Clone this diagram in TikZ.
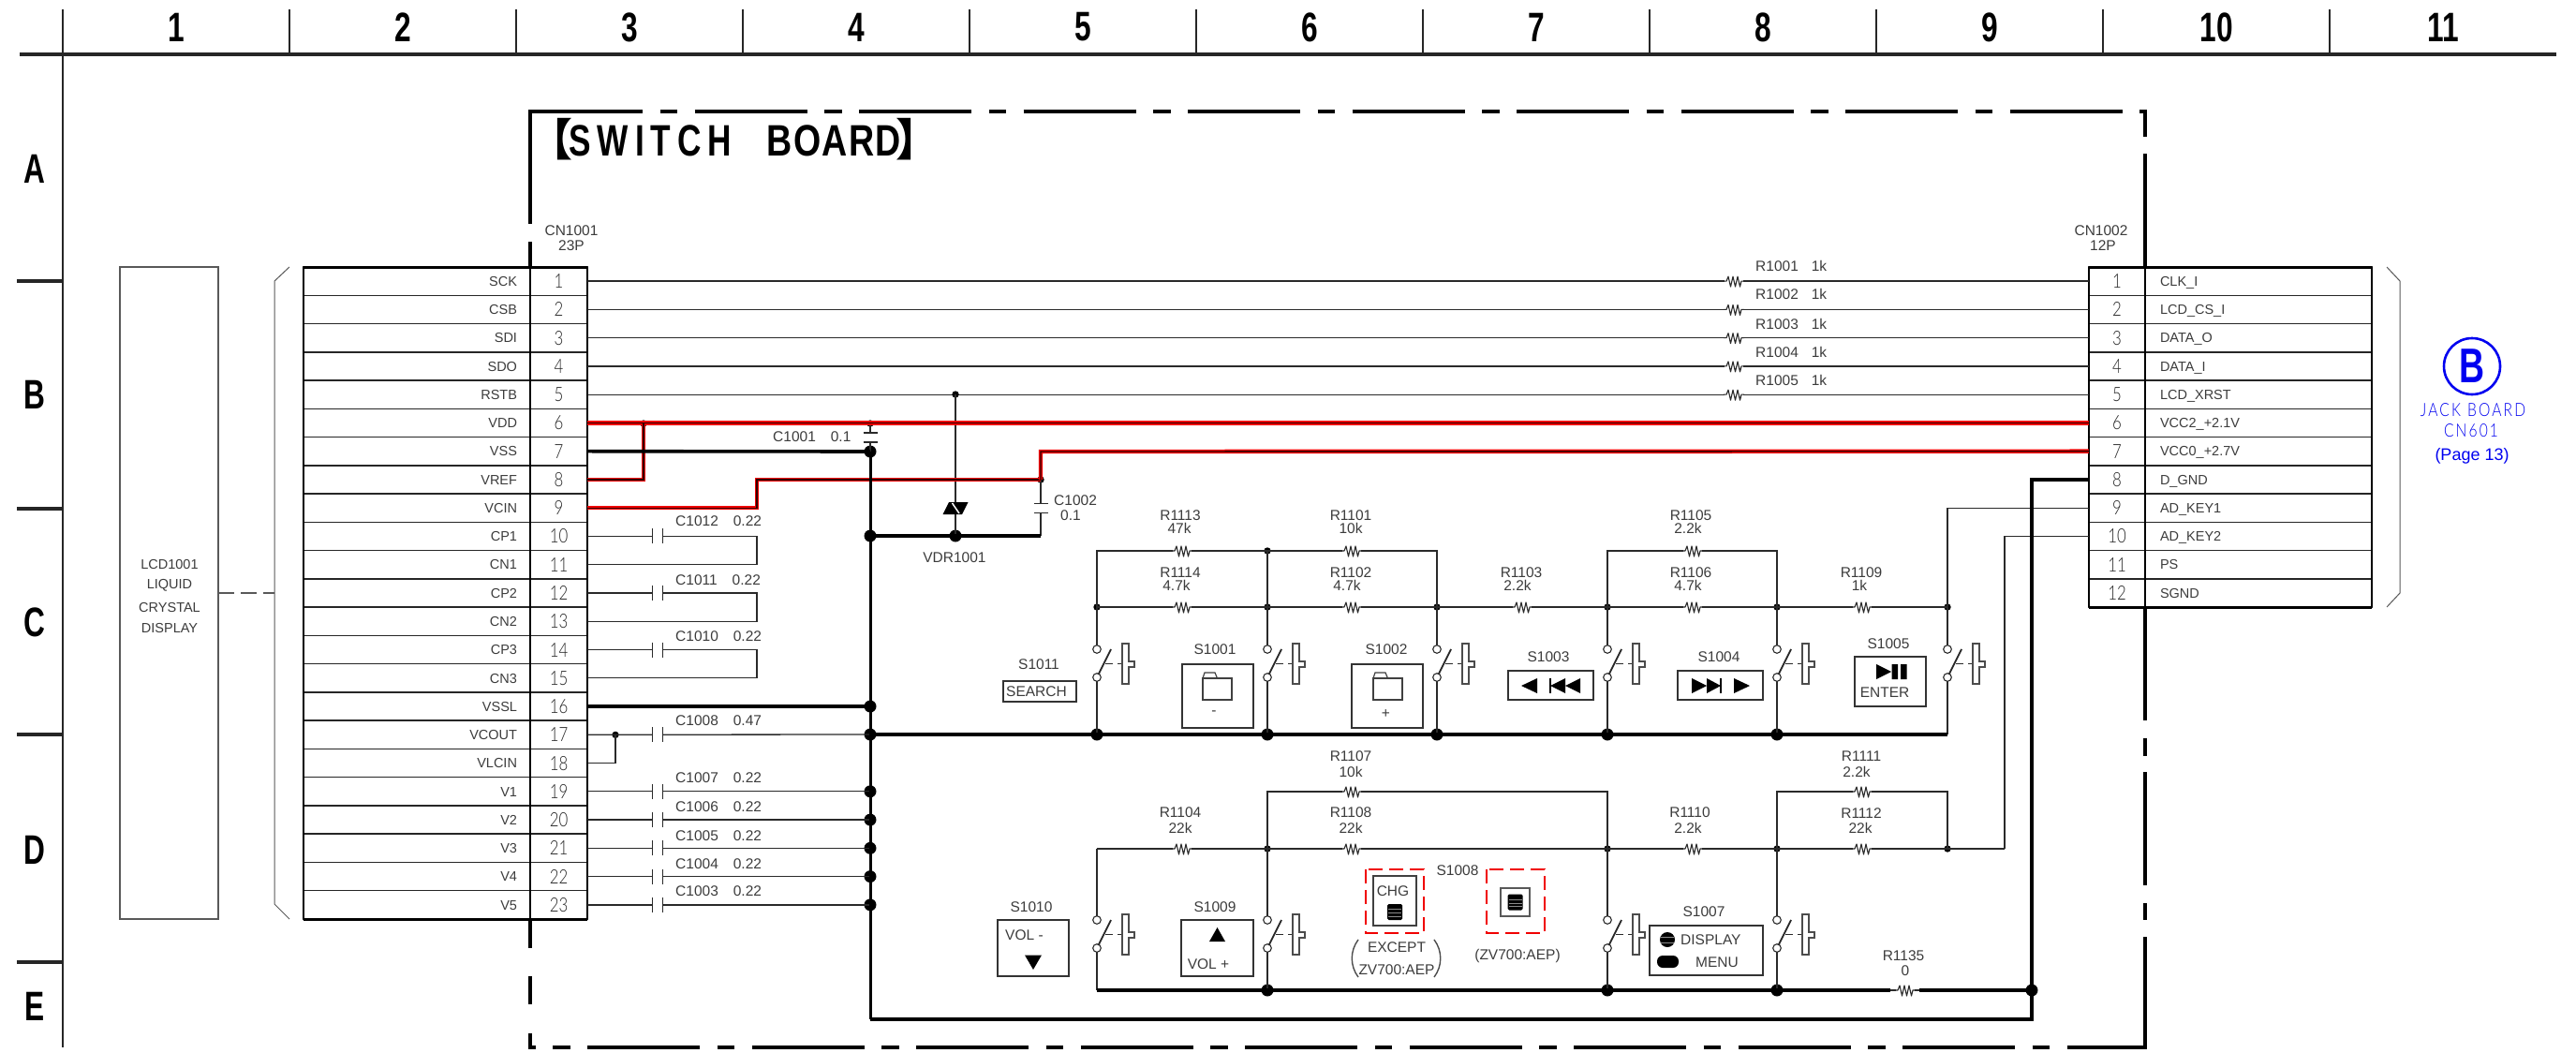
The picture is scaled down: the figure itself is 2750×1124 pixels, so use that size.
\documentclass[tikz,border=0pt]{standalone}
\usepackage{fontspec}
\setmainfont{Liberation Sans}
\newfontfamily\hdf[FakeStretch=0.72]{Liberation Sans}
\newfontfamily\ttlf[FakeStretch=0.75,LetterSpace=15]{Liberation Sans}
\newfontfamily\ttlg[FakeStretch=0.8,LetterSpace=3]{Liberation Sans}
\newfontfamily\pinf[FakeStretch=0.8]{Lato Light}
\newfontfamily\blf[FakeStretch=0.8,LetterSpace=11]{Lato Light}
\newfontfamily\cjk{Noto Sans CJK SC}
\definecolor{txt}{HTML}{3C3C3C}
\definecolor{wirec}{HTML}{2A2A2A}
\definecolor{blu}{HTML}{0000F0}
\definecolor{redc}{HTML}{F00000}
\tikzset{
 x=1pt,y=-1pt,
 gridl/.style={line width=2.2pt,draw=black!85},
 gridh/.style={line width=3.4pt,draw=black!85},
 hdlab/.style={font=\hdf\bfseries\fontsize{44}{44}\selectfont,inner sep=0pt,text=black},
 lab/.style={font=\fontsize{15.5}{15.5}\selectfont,inner sep=0pt,text=txt},
 lcell/.style={draw=black!85,line width=1.5pt,minimum width=242pt,minimum height=30.26pt,inner xsep=0pt,inner ysep=0pt,text width=214pt,align=right,text height=10.5pt,text depth=0pt,font=\fontsize{14.5}{14.5}\selectfont,text=txt,outer sep=0pt},
 rcell/.style={draw=black!85,line width=1.5pt,minimum width=242pt,minimum height=30.26pt,inner xsep=0pt,inner ysep=0pt,text width=210pt,align=left,text height=10.5pt,text depth=0pt,font=\fontsize{14.5}{14.5}\selectfont,text=txt,outer sep=0pt},
 pcell/.style={draw=black!85,line width=1.5pt,minimum width=60.5pt,minimum height=30.26pt,inner sep=0pt,text height=15pt,text depth=0pt,font=\pinf\fontsize{21}{21}\selectfont,text=black!85,outer sep=0pt},
 wire/.style={line width=1.3pt,draw=wirec,line join=miter},
 thickw/.style={line width=3.6pt,draw=black,line join=miter},
 busw/.style={line width=3pt,draw=black,line join=miter},
 redw/.style={draw=redc,double=black!80!red,line width=1.5pt,double distance=1.4pt,line join=miter},
 bord/.style={line width=3.4pt,draw=black},
 sdot/.style={circle,fill=black,minimum size=7.4pt,inner sep=0pt,outer sep=0pt},
 bdot/.style={circle,fill=black,minimum size=13pt,inner sep=0pt,outer sep=0pt},
 swc/.style={circle,draw=wirec,fill=white,line width=1.1pt,minimum size=8.6pt,inner sep=0pt,outer sep=0pt},
 boxk/.style={draw=black!80,line width=1.3pt,fill=white},
 thinb/.style={draw=black!65,line width=1.2pt},
 reddash/.style={draw=redc,line width=2.2pt,dash pattern=on 15pt off 7pt,line cap=butt},
 blab/.style={inner sep=0pt,text=blu},
 resist/.pic={
  \fill[white] (-10,-3) rectangle (10,3);
  \draw[line width=1.1pt,draw=wirec,line join=round] (-11,0)--(-8,0)--(-6,-5)--(-3.5,6)--(-1,-5)--(1.5,6)--(4,-5)--(6.5,6)--(8,0)--(11,0);
 },
 hcap/.pic={
  \fill[white] (-5.5,-3) rectangle (5.5,3);
  \draw[line width=1.8pt,draw=wirec] (-5.5,-8)--(-5.5,8) (5.5,-8)--(5.5,8);
 },
 vcap/.pic={
  \fill[white] (-3,-5) rectangle (3,5);
  \draw[line width=1.8pt,draw=wirec] (-7.5,-5)--(7.5,-5) (-7.5,5)--(7.5,5);
 },
 swm/.pic={
  \draw[line width=1.8pt,draw=black!85] (1.5,12)--(15,-15);
  \draw[line width=1pt,draw=wirec] (9,0)--(17,0) (22,0)--(27,0);
  \draw[line width=1.1pt,draw=black!70,fill=white] (27,-21)--(34,-21)--(34,-2)--(40,-2)--(40,4)--(34,4)--(34,22)--(27,22)--cycle;
 },
 folder/.pic={
  \draw[line width=1.2pt,draw=black!75] (0,0) rectangle (31,23);
  \draw[line width=1.2pt,draw=black!75] (0,0)--(2,-6)--(13,-6)--(15.5,0);
 },
 blockk/.pic={
  \fill[black,rounded corners=1.5pt] (-8,-8.5) rectangle (8,8.5);
  \draw[line width=.6pt,draw=black!45] (-7,-3) -- (7,-3) (-7,1) -- (7,1) (-7,4.5) -- (7,4.5);
 },
}
\begin{document}
\begin{tikzpicture}
\useasboundingbox (0,0) rectangle (2750,1124);
\fill[white] (0,0) rectangle (2750,1124);
% frame
\coordinate (fa) at (21,58); \coordinate (fb) at (2729,58);
\draw[gridh] (fa)--(fb);
\coordinate (fc) at (67,10); \coordinate (fd) at (67,1118);
\draw[gridl] (fc)--(fd);
\foreach \x in {309,551,793,1035,1277,1519,1761,2003,2245,2487}{
  \coordinate (gt\x) at (\x,10); \coordinate (gb\x) at (\x,58);
  \draw[gridl] (gt\x)--(gb\x);}
\foreach \y in {300,543,784,1027}{
  \coordinate (tl\y) at (18,\y); \coordinate (tr\y) at (67,\y);
  \draw[gridh] (tl\y)--(tr\y);}
\foreach \n/\x in {1/188,2/430,3/672,4/914,5/1156,6/1398,7/1640,8/1882,9/2124,10/2366,11/2608}
  \node[hdlab] (col\n) at (\x,29) {\n};
\foreach \n/\y in {A/180,B/421,C/664,D/907,E/1074}
  \node[hdlab] (row\n) at (37,\y) {\n};
% board border
\draw[bord,dash pattern=on 120pt off 18.5pt on 18.5pt off 18.5pt,dash phase=0pt] (566,119)--(2290,119);
\draw[bord] (566,117.3)--(566,239) (566,258)--(566,285) (566,981)--(566,1012) (566,1042)--(566,1072) (566,1103)--(566,1119.7);
\draw[bord] (2290,117.3)--(2290,146) (2290,164)--(2290,285) (2290,648)--(2290,769) (2290,788)--(2290,807) (2290,824)--(2290,945) (2290,964)--(2290,982) (2290,1000)--(2290,1119.7);
\draw[bord,dash pattern=on 120pt off 18.5pt on 18.5pt off 18.5pt,dash phase=114.5pt] (566,1118)--(2290,1118);
\node[font=\bfseries\fontsize{47}{47}\selectfont,inner sep=0pt,text=black,anchor=west] (title) at (576,149) {{\cjk\hspace{-12pt}【\hspace{-4pt}}{\ttlf SWITCH\hspace{37pt}}{\ttlg BOARD}{\cjk\hspace{-5pt}】}};
% LCD
\node[draw=black!65,line width=1.2pt,minimum width=105pt,minimum height=696pt,inner sep=0pt,outer sep=0pt] (lcd) at (180.5,633) {};
\foreach \nm/\y/\t in {lcda/603/LCD1001,lcdb/625/LIQUID,lcdc/649/CRYSTAL,lcdd/671/DISPLAY}
  \node[lab,font=\fontsize{14.5}{14.5}\selectfont] (\nm) at (181,\y) {\t};
\coordinate (brk) at (293,633);
\draw[thinb,dash pattern=on 17pt off 7pt] (lcd.east|-brk)--(brk);
\draw[thinb,line width=1pt] (309,285)--(293,300)--(293,965)--(309,981);
\draw[thinb,line width=1pt] (2548,285)--(2562,300)--(2562,633)--(2548,648);
% connector cells
\foreach \i/\lab in {1/SCK,2/CSB,3/SDI,4/SDO,5/RSTB,6/VDD,7/VSS,8/VREF,9/VCIN,10/CP1,11/CN1,12/CP2,13/CN2,14/CP3,15/CN3,16/VSSL,17/VCOUT,18/VLCIN,19/V1,20/V2,21/V3,22/V4,23/V5}{
  \pgfmathsetmacro\yy{285+30.26*(\i-0.5)}
  \node[lcell] (LL\i) at (445,\yy) {\lab};
  \node[pcell] (LP\i) at (596.5,\yy) {\i};
}
\foreach \i/\lab in {1/CLK\_I,2/LCD\_CS\_I,3/DATA\_O,4/DATA\_I,5/LCD\_XRST,6/VCC2\_+2.1V,7/VCC0\_+2.7V,8/D\_GND,9/AD\_KEY1,10/AD\_KEY2,11/PS,12/SGND}{
  \pgfmathsetmacro\yy{285+30.26*(\i-0.5)}
  \node[rcell] (RL\i) at (2411,\yy) {\lab};
  \node[pcell] (RP\i) at (2260,\yy) {\i};
}
\draw[line width=3pt,draw=black] (324,285)--(627,285) (324,981)--(627,981) (2230,285)--(2532,285) (2230,648)--(2532,648);
\draw[line width=2pt,draw=black] (324,285)--(324,981) (627,285)--(627,981) (566,285)--(566,981) (2230,285)--(2230,648) (2532,285)--(2532,648) (2290,285)--(2290,648);
\node[lab] (cn1a) at (610,246) {CN1001};
\node[lab] (cn1b) at (610,262) {23P};
\node[lab] (cn2a) at (2243,246) {CN1002};
\node[lab] (cn2b) at (2245,262) {12P};
% B reference
\node[circle,draw=blu,line width=2.6pt,minimum size=60pt,inner sep=0pt] (bcirc) at (2639,391) {};
\node[blab,font=\hdf\bfseries\fontsize{52}{52}\selectfont] (bl) at (2639,391) {B};
\node[blab,font=\blf\fontsize{19.5}{19.5}\selectfont] (jb) at (2640,437.5) {JACK\hspace{7pt}BOARD};
\node[blab,font=\blf\fontsize{19.5}{19.5}\selectfont] (cn6) at (2638,460) {CN601};
\node[blab,font=\fontsize{18}{18}\selectfont] (pg) at (2639,487) {(Page 13)};
% signal wires with R
\foreach \i/\nm/\ly in {1/R1001/284,2/R1002/314,3/R1003/346,4/R1004/376,5/R1005/406}{
  \draw[wire] (LP\i.east)--(RP\i.west);
  \coordinate (x\nm) at (1851,0);
  \pic at (x\nm|-LP\i.east) {resist};
  \node[lab,anchor=west] (l\nm) at (1874,\ly) {\nm\hspace{14pt}1k};
}
% capacitor groups
\foreach \a/\b/\nm/\ly/\vv in {10/11/C1012/556/0.22,12/13/C1011/619.5/0.22,14/15/C1010/679.5/0.22}{
  \coordinate (kk\a) at (808,0);
  \draw[wire] (LP\a.east) -| (kk\a|-LP\b.east) -- (LP\b.east);
  \pic at (702,0|-LP\a.east) {hcap};
  \node[lab,anchor=west] (l\nm) at (721,\ly) {\nm\hspace{16pt}\vv};
}
% bus nodes
\node[bdot] (n482) at (929,482) {};
\node[bdot] (n572) at (929,572) {};
\node[bdot] (n754) at (929,754) {};
\node[bdot] (n784) at (929,784) {};
\coordinate (n1088) at (929,1088);
\coordinate (g1088) at (2169,1088);
\node[bdot] (vdrb) at (1020,572) {};
\coordinate (c2b) at (1111,572);
\node[sdot] (vdrt) at (1020,421) {};
\node[sdot] (c1t) at (929,452) {};
\node[sdot] (c2t) at (1111,512) {};
\node[sdot] (vdrj) at (687,452) {};
\node[sdot] (vc) at (657,784.4) {};
\coordinate (r7k) at (1111,482);
\coordinate (v9k) at (808,512);
% thin around bus
\draw[wire] (vdrt.center)--(vdrb.center);
\draw[wire] (c1t.center)--(n482.center);
\draw[wire] (c2t.center)--(c2b);
\pic at (929,467) {vcap};
\pic at (1111,542.5) {vcap};
\node[lab,anchor=west] (lc1001) at (825,466) {C1001\hspace{16pt}0.1};
\node[lab,anchor=west] (lc1002) at (1125,534) {C1002};
\node[lab] (lc1002v) at (1143,550) {0.1};
\node[lab] (lvdr) at (1019,595) {VDR1001};
% VDR symbol
\fill[black] (1013,536)--(1033.5,536)--(1027,549)--(1006.5,549)--cycle;
\draw[white,line width=1.5pt] (1016.5,537)--(1024,548);
% row 17-23
\draw[wire] (LP17.east)--(n784.center);
\draw[wire] (LP18.east) -| (vc.center);
\pic at (702,784.4) {hcap};
\node[lab,anchor=west] (lC1008) at (721,769.5) {C1008\hspace{16pt}0.47};
\foreach \i/\nm/\ly in {19/C1007/830,20/C1006/861.6,21/C1005/892,22/C1004/921.7,23/C1003/951.6}{
  \node[bdot] (nb\i) at (929,0|-LP\i.east) {};
  \draw[wire] (LP\i.east)--(nb\i.center);
  \pic at (702,0|-LP\i.east) {hcap};
  \node[lab,anchor=west] (l\nm) at (721,\ly) {\nm\hspace{16pt}0.22};
}
% red
\draw[redw] (LP6.east)--(RP6.west);
\draw[redw] (LP8.east) -| (vdrj.center);
\draw[redw] (LP9.east) -| (v9k) -- (c2t.center);
\draw[redw] (c2t.center)--(r7k)--(RP7.west);
% thick rails
\draw[thickw] (LP7.east)--(n482.center);
\draw[thickw] (LP16.east)--(n754.center);
\draw[busw] (n482.center)--(n1088);
\draw[thickw] (n1088)--(g1088)--(g1088|-RP8.west)--(RP8.west);
\draw[thickw] (n572.center)--(c2b);
% upper network
\foreach \x in {1171,1353,1534,1716,1897,2079}{
  \node[sdot] (a\x) at (\x,648) {};
  \node[swc] (st\x) at (\x,693) {};
  \node[swc] (sb\x) at (\x,723) {};
  \draw[wire] (a\x.center)--(st\x);
  \pic at (\x,708) {swm};
}
\foreach \x in {1171,1353,1534,1716,1897}{
  \node[bdot] (b\x) at (\x,784) {};
  \draw[wire] (sb\x)--(b\x.center);
}
\coordinate (b2079) at (2079,784);
\draw[wire] (sb2079)--(b2079);
\draw[thickw] (n784.center)--(b2079);
\node[sdot] (t1353) at (1353,588) {};
\coordinate (t1171) at (1171,588);\coordinate (t1534) at (1534,588);
\coordinate (t1716) at (1716,588);\coordinate (t1897) at (1897,588);
\draw[wire] (a1171.center)--(t1171)--(t1534)--(a1534.center);
\draw[wire] (t1353.center)--(a1353.center);
\draw[wire] (a1716.center)--(t1716)--(t1897)--(a1897.center);
\draw[wire] (a1171.center)--(a2079.center);
\draw[wire] (RP9.west) -| (a2079.center);
\foreach \x/\y in {1262/588,1443/588,1807/588,1262/648,1443/648,1625/648,1807/648,1988/648}
  \pic at (\x,\y) {resist};
% lower network
\foreach \x in {1171,1353,1716,1897}{
  \node[swc] (ut\x) at (\x,982) {};
  \node[swc] (ub\x) at (\x,1012) {};
  \pic at (\x,997) {swm};
}
\coordinate (d1171) at (1171,906);
\coordinate (e1171) at (1171,1057);
\foreach \x in {1353,1716,1897}{
  \node[sdot] (d\x) at (\x,906) {};
  \node[bdot] (e\x) at (\x,1057) {};
  \coordinate (f\x) at (\x,845);
}
\node[sdot] (d2079) at (2079,906) {};
\node[bdot] (e2169) at (2169,1057) {};
\coordinate (f2079) at (2079,845);
\coordinate (k2140) at (2140,906);
\coordinate (e2018) at (2018,1057);\coordinate (e2049) at (2049,1057);
\foreach \x in {1353,1716,1897}{
  \draw[wire] (d\x.center)--(ut\x);
  \draw[wire] (ub\x)--(e\x.center);
}
\draw[wire] (d1171)--(ut1171);
\draw[wire] (ub1171)--(e1171);
\draw[wire] (d1171)--(k2140);
\draw[wire] (RP10.west) -| (k2140);
\draw[wire] (d1353.center)--(f1353)--(f1716)--(d1716.center);
\draw[wire] (d1897.center)--(f1897)--(f2079)--(d2079.center);
\draw[thickw] (e1171)--(e2018);
\draw[thickw] (e2049)--(e2169.center);
\draw[wire] (e2018)--(e2049);
\foreach \x/\y in {1262/906,1443/906,1807/906,1988/906,1443/845,1988/845,2034/1057}
  \pic at (\x,\y) {resist};
% crossing on top
\draw[thickw] (g1088|-RP8.west)--(g1088);
% resistor labels
\foreach \nm/\x/\y/\t in {
 R1113/1260/550/R1113,va/1259/564/47k,R1101/1442/550/R1101,vb/1442/564/10k,R1105/1805/550/R1105,vc1/1802/564/2.2k,
 R1114/1260/611/R1114,vd/1256/625/4.7k,R1102/1442/611/R1102,ve/1438/625/4.7k,R1103/1624/611/R1103,vf/1620/625/2.2k,
 R1106/1805/611/R1106,vg/1802/625/4.7k,R1109/1987/611/R1109,vh/1985/625/1k,
 R1107/1442/807.5/R1107,vi/1442/823.6/10k,R1111/1987/807.5/R1111,vj/1982/823.6/2.2k,
 R1104/1260/867.6/R1104,vk/1260/884/22k,R1108/1442/867.6/R1108,vl/1442/884/22k,R1110/1804/867.6/R1110,vm/1802/884/2.2k,R1112/1987/867.6/R1112,vn/1986/884/22k,
 R1135/2032/1020/R1135,vo/2034/1036/0}
  \node[lab] (l\nm) at (\x,\y) {\t};
% switch labels
\foreach \nm/\x/\y in {S1011/1109/709,S1001/1297/693,S1002/1480/693,S1003/1653/701,S1004/1835/701,S1005/2016/687,S1010/1101/968,S1009/1297/968,S1008/1556/929,S1007/1819/973}
  \node[lab] (l\nm) at (\x,\y) {\nm};
% upper boxes
\node[draw=black!80,line width=1.3pt,minimum width=78pt,minimum height=22pt,inner sep=0pt,lab] (bsearch) at (1110,738) {\hspace{-7pt}SEARCH};
\node[boxk,minimum width=76pt,minimum height=68pt,inner sep=0pt] (bs1001) at (1300,743) {};
\pic at (1284,724) {folder};
\node[lab] (tminus) at (1296,761) {-};
\node[boxk,minimum width=76pt,minimum height=68pt,inner sep=0pt] (bs1002) at (1481,743) {};
\pic at (1466,724) {folder};
\node[lab] (tplus) at (1479.5,762) {+};
\node[boxk,minimum width=91pt,minimum height=31pt,inner sep=0pt] (bs1003) at (1655.5,731.5) {};
\fill[black] (1624,732)--(1641,724)--(1641,740)--cycle (1655,732)--(1671,724)--(1671,740)--cycle (1671,732)--(1687,724)--(1687,740)--cycle;
\draw[line width=1.4pt,black] (1655,724)--(1655,740);
\node[boxk,minimum width=91pt,minimum height=31pt,inner sep=0pt] (bs1004) at (1836.5,731.5) {};
\fill[black] (1806,724)--(1822,732)--(1806,740)--cycle (1822,724)--(1837,732)--(1822,740)--cycle (1851,724)--(1868,732)--(1851,740)--cycle;
\draw[line width=1.4pt,black] (1837,724)--(1837,740);
\node[boxk,minimum width=76pt,minimum height=53pt,inner sep=0pt] (bs1005) at (2018,727.5) {};
\fill[black] (2003,709)--(2019,717)--(2003,725)--cycle;
\fill[black] (2019.5,709) rectangle (2026,725) (2029,709) rectangle (2035.5,725);
\node[lab] (tenter) at (2012,739) {ENTER};
% lower boxes
\node[boxk,minimum width=76pt,minimum height=60pt,inner sep=0pt] (bs1010) at (1103,1012) {};
\node[lab,anchor=west] (tvolm) at (1073,998) {VOL -};
\fill[black] (1094,1019.5)--(1112,1019.5)--(1103,1035)--cycle;
\node[boxk,minimum width=77pt,minimum height=60pt,inner sep=0pt] (bs1009) at (1299.5,1012) {};
\fill[black] (1291,1005)--(1308,1005)--(1299.5,990)--cycle;
\node[lab] (tvolp) at (1290,1029) {VOL +};
\draw[reddash] (1458,928) rectangle (1520,996);
\draw[reddash] (1587,928) rectangle (1649,996);
\node[draw=black!75,line width=1.3pt,minimum width=46pt,minimum height=53pt,inner sep=0pt] (bs1008a) at (1489,961.5) {};
\node[lab] (tchg) at (1487,951) {CHG};
\pic at (1489,973.5) {blockk};
\node[draw=black!65,line width=1.8pt,minimum width=31pt,minimum height=30pt,inner sep=0pt] (bs1008b) at (1617.5,963) {};
\pic at (1617.5,963) {blockk};
\node[lab] (tex) at (1491,1011) {EXCEPT};
\node[lab] (tzv) at (1491,1035) {ZV700:AEP};
\node[lab] (tzv2) at (1620,1020) {(ZV700:AEP)};
\draw[line width=1.4pt,draw=black!70] (1450,1003) .. controls (1441,1015) and (1441,1031) .. (1450,1043);
\draw[line width=1.4pt,draw=black!70] (1531,1003) .. controls (1540,1015) and (1540,1031) .. (1531,1043);
\node[boxk,minimum width=121pt,minimum height=53pt,inner sep=0pt] (bs1007) at (1821.5,1014.5) {};
\fill[black] (1780,1003) circle (8pt);
\draw[line width=.6pt,draw=black!45] (1773,1000)--(1787,1000) (1773,1006)--(1787,1006);
\fill[black,rounded corners=6pt] (1769,1020) rectangle (1792,1033);
\node[lab,anchor=west] (tdisp) at (1794,1003) {DISPLAY};
\node[lab,anchor=west] (tmenu) at (1810,1027) {MENU};
\end{tikzpicture}
\end{document}
